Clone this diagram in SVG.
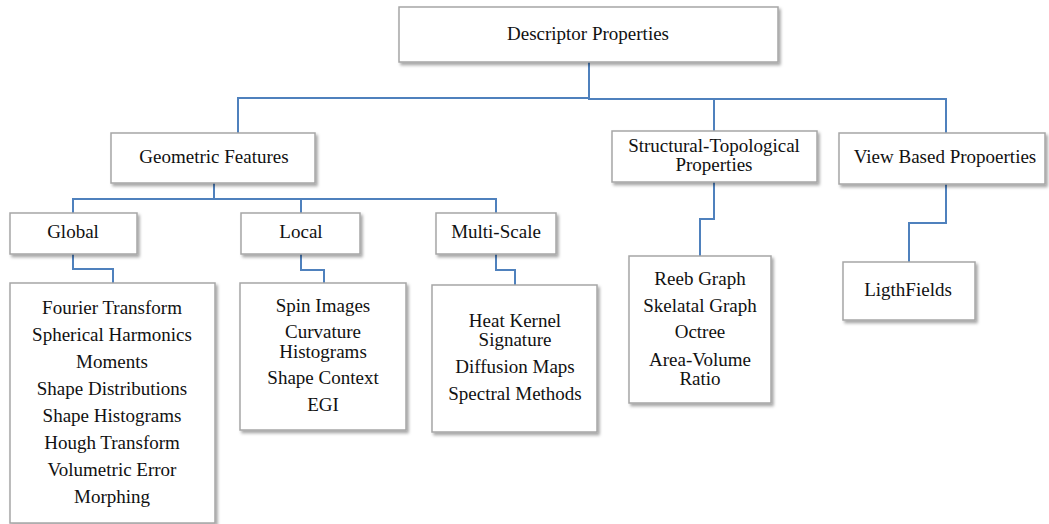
<svg xmlns="http://www.w3.org/2000/svg" width="1049" height="524" viewBox="0 0 1049 524">
<defs>
<filter id="sh" x="-10%" y="-10%" width="130%" height="130%">
<feDropShadow dx="2" dy="2.5" stdDeviation="1.5" flood-color="#000" flood-opacity="0.35"/>
</filter>
<style>
.box{fill:#fff;stroke:#a6a6a6;stroke-width:1.5;filter:url(#sh)}
.c{fill:none;stroke:#4f81bd;stroke-width:2}
</style>
</defs>
<rect width="1049" height="524" fill="#fff"/>
<g id="connectors">
<path class="c" d="M589,62 V98 H238 V133"/>
<path class="c" d="M589,98 V99 H946 V133"/>
<path class="c" d="M714,99 V131"/>
<path class="c" d="M214,183 V199"/>
<path class="c" d="M73,213 V199 H496 V213"/>
<path class="c" d="M301,199 V213"/>
<path class="c" d="M73,254 V269 H113 V283"/>
<path class="c" d="M301,254 V270 H324 V283"/>
<path class="c" d="M496,254 V270 H515 V285"/>
<path class="c" d="M714,182 V219 H700 V256"/>
<path class="c" d="M946,184 V223 H909 V262"/>
</g>
<g font-family="Liberation Serif, Times New Roman, serif" font-size="19" fill="#111" text-anchor="middle">
<g id="descriptor">
<rect class="box" x="399" y="7" width="379" height="55"/>
<text x="588" y="40">Descriptor Properties</text>
</g>
<g id="geometric">
<rect class="box" x="111" y="133" width="204" height="50"/>
<text x="214" y="163">Geometric Features</text>
</g>
<g id="structural">
<rect class="box" x="612" y="131" width="205" height="51"/>
<text x="714" y="152">Structural-Topological</text>
<text x="714" y="171">Properties</text>
</g>
<g id="viewbased">
<rect class="box" x="839" y="133" width="206" height="51"/>
<text x="945" y="163">View Based Propoerties</text>
</g>
<g id="global">
<rect class="box" x="10" y="213" width="127" height="41"/>
<text x="73" y="238">Global</text>
</g>
<g id="local">
<rect class="box" x="241" y="213" width="119" height="41"/>
<text x="301" y="238">Local</text>
</g>
<g id="multiscale">
<rect class="box" x="436" y="213" width="120" height="41"/>
<text x="496" y="238">Multi-Scale</text>
</g>
<g id="global-list">
<rect class="box" x="10" y="283" width="205" height="240"/>
<text x="112" y="314">Fourier Transform</text>
<text x="112" y="341">Spherical Harmonics</text>
<text x="112" y="368">Moments</text>
<text x="112" y="395">Shape Distributions</text>
<text x="112" y="422">Shape Histograms</text>
<text x="112" y="449">Hough Transform</text>
<text x="112" y="476">Volumetric Error</text>
<text x="112" y="503">Morphing</text>
</g>
<g id="local-list">
<rect class="box" x="240" y="283" width="166" height="147"/>
<text x="323" y="312">Spin Images</text>
<text x="323" y="338">Curvature</text>
<text x="323" y="358">Histograms</text>
<text x="323" y="384">Shape Context</text>
<text x="323" y="411">EGI</text>
</g>
<g id="multiscale-list">
<rect class="box" x="432" y="285" width="165" height="147"/>
<text x="515" y="327">Heat Kernel</text>
<text x="515" y="346">Signature</text>
<text x="515" y="373">Diffusion Maps</text>
<text x="515" y="400">Spectral Methods</text>
</g>
<g id="structural-list">
<rect class="box" x="629" y="256" width="142" height="147"/>
<text x="700" y="285">Reeb Graph</text>
<text x="700" y="312">Skelatal Graph</text>
<text x="700" y="338">Octree</text>
<text x="700" y="366">Area-Volume</text>
<text x="700" y="385">Ratio</text>
</g>
<g id="ligthfields">
<rect class="box" x="843" y="262" width="132" height="58"/>
<text x="908" y="296">LigthFields</text>
</g>
</g>
</svg>
